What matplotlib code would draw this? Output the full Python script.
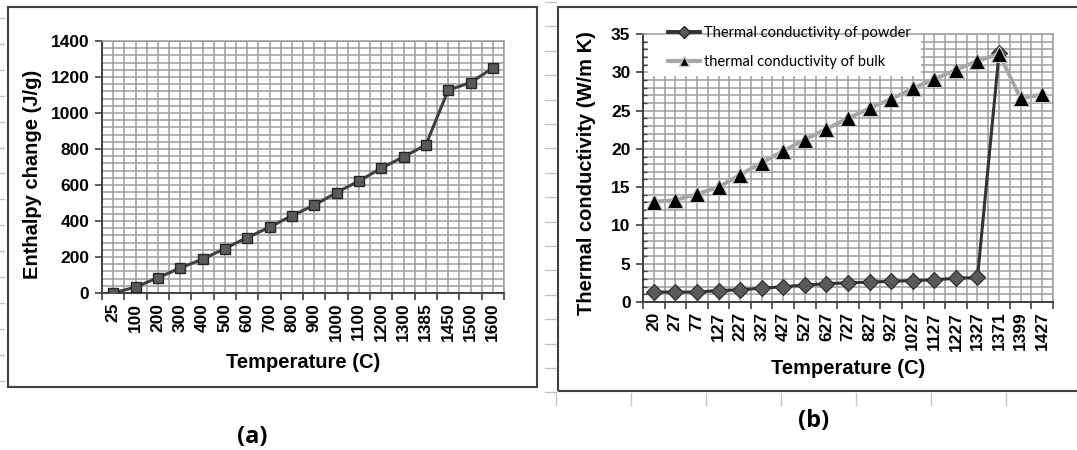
import matplotlib.pyplot as plt
import numpy as np
from matplotlib.patches import Rectangle
from matplotlib.lines import Line2D
from matplotlib.ticker import MultipleLocator

# ---- data ----
temp_a = ['25', '100', '200', '300', '400', '500', '600', '700', '800', '900',
          '1000', '1100', '1200', '1300', '1385', '1450', '1500', '1600']
enthalpy = [0, 33, 84, 139, 188, 247, 308, 365, 430, 487,
            558, 622, 693, 757, 822, 1127, 1169, 1250]

temp_b = ['20', '27', '77', '127', '227', '327', '427', '527', '627', '727',
          '827', '927', '1027', '1127', '1227', '1327', '1371', '1399', '1427']
k_powder = [1.3, 1.3, 1.3, 1.5, 1.6, 1.8, 2.0, 2.2, 2.4, 2.5,
            2.6, 2.7, 2.8, 2.9, 3.1, 3.2, 32.5, np.nan, np.nan]
k_bulk = [13.1, 13.3, 14.1, 15.0, 16.6, 18.2, 19.7, 21.2, 22.6, 24.0,
          25.3, 26.5, 27.9, 29.1, 30.3, 31.5, 32.4, 26.6, 27.1]

# ---- style ----
W, H = 1077, 450
AX_COL = '#404040'
GRID_COL = '#9c9c9c'
TICK_FS = 12.5
LABEL_FS = 14.5
plt.rcParams['font.family'] = ['Liberation Sans', 'DejaVu Sans']

fig = plt.figure(figsize=(W / 100, H / 100), dpi=100)


def px_axes(x0, y0, x1, y1):
    # pixel box (top-left origin) -> figure fraction
    return fig.add_axes([x0 / W, 1 - y1 / H, (x1 - x0) / W, (y1 - y0) / H])


def style_axes(ax, n, ymax, ymaj, ymin):
    ax.set_xlim(-0.5, n - 0.5)
    ax.set_ylim(0, ymax)
    ax.xaxis.set_major_locator(MultipleLocator(1))
    ax.xaxis.set_minor_locator(MultipleLocator(0.5))
    ax.yaxis.set_major_locator(MultipleLocator(ymaj))
    ax.yaxis.set_minor_locator(MultipleLocator(ymin))
    ax.grid(True, which='both', color=GRID_COL, lw=1.1)
    ax.set_axisbelow(True)
    for s in ['top', 'right']:
        ax.spines[s].set_color(GRID_COL)
        ax.spines[s].set_linewidth(1.1)
    for s in ['left', 'bottom']:
        ax.spines[s].set_color(AX_COL)
        ax.spines[s].set_linewidth(1.4)
    ax.tick_params(axis='x', which='major', length=0, pad=7)
    ax.tick_params(axis='x', which='minor', length=5, width=1.2, color=AX_COL, direction='out')
    ax.tick_params(axis='y', which='major', length=5, width=1.2, color=AX_COL, direction='out', pad=4)
    ax.tick_params(axis='y', which='minor', length=0)
    ax.tick_params(labelsize=TICK_FS)
    for lab in ax.get_yticklabels():
        lab.set_fontweight('bold')


# ---- (a) enthalpy ----
ax1 = px_axes(102, 41, 504, 293)
x1 = np.arange(len(temp_a))
ax1.plot(x1, enthalpy, color=AX_COL, lw=2.2, marker='s', ms=7.5,
         mfc='#5a5a5a', mec='#262626', mew=1.0, zorder=3)
style_axes(ax1, len(temp_a), 1400, 200, 40)
ax1.set_xticks(x1)
ax1.set_xticklabels(temp_a, rotation=90, fontweight='bold', fontsize=TICK_FS)
ax1.set_xlabel('Temperature (C)', fontsize=LABEL_FS, fontweight='bold', va='center')
ax1.xaxis.set_label_coords(0.5, -0.274)
ax1.set_ylabel('Enthalpy change (J/g)', fontsize=LABEL_FS, fontweight='bold', va='center')
ax1.yaxis.set_label_coords(-0.172, 0.472)

# ---- (b) thermal conductivity ----
ax2 = px_axes(643, 34, 1053, 302)
x2 = np.arange(len(temp_b))
ax2.plot(x2, k_bulk, color='#a6a6a6', lw=2.8, marker='^', ms=11,
         mfc='black', mec='#c8c8c8', mew=0.8, zorder=3,
         label='thermal conductivity of bulk')
ax2.plot(x2, k_powder, color='#333333', lw=2.2, marker='D', ms=8,
         mfc='#5a5a5a', mec='#2a2a2a', mew=0.8, zorder=2.8,
         label='Thermal conductivity of powder')
style_axes(ax2, len(temp_b), 35, 5, 1)
ax2.tick_params(axis='y', which='minor', length=3, width=1, color=AX_COL, direction='in')
ax2.set_xticks(x2)
ax2.set_xticklabels(temp_b, rotation=90, fontweight='bold', fontsize=TICK_FS)
ax2.set_xlabel('Temperature (C)', fontsize=LABEL_FS, fontweight='bold', va='center')
ax2.xaxis.set_label_coords(0.5, -0.25)
ax2.set_ylabel('Thermal conductivity (W/m K)', fontsize=LABEL_FS, fontweight='bold', va='center')
ax2.yaxis.set_label_coords(-0.139, 0.48)

# white block behind the legend, as in the original
ax2.add_patch(Rectangle((0.012, 0.843), 0.666, 0.157, transform=ax2.transAxes,
                        facecolor='white', edgecolor='none', zorder=1.5))

handles = [
    Line2D([0], [0], color='#333333', lw=2.8, marker='D', ms=6, mfc='#5a5a5a', mec='#2a2a2a'),
    Line2D([0], [0], color='#a6a6a6', lw=3.0, marker='^', ms=7, mfc='black', mec='#c8c8c8'),
]
ax2.legend(handles, ['Thermal conductivity of powder', 'thermal conductivity of bulk'],
           loc='upper left', bbox_to_anchor=(0.061, 1.03), frameon=False,
           borderpad=0, borderaxespad=0, handlelength=2.2, handletextpad=0.3,
           labelspacing=1.05, prop={'family': ['Lato', 'DejaVu Sans'], 'size': 10.5})

# ---- spreadsheet frames and ruler marks ----
frame_kw = dict(transform=None, fill=False, edgecolor=AX_COL, lw=1.5, zorder=0)
fig.patches.append(Rectangle((8, H - 387), 529, 380, **frame_kw))
fig.patches.append(Rectangle((558, H - 391), 530, 384, **frame_kw))

ruler = '#c4c4c4'
for y in np.arange(18, 395, 25.9):
    fig.add_artist(Line2D([0, 4], [H - y, H - y], transform=None, color=ruler, lw=1))
for y in np.arange(2, 400, 24.4):
    fig.add_artist(Line2D([545, 556], [H - y, H - y], transform=None, color=ruler, lw=1))
for x in np.arange(556, 1077, 75):
    fig.add_artist(Line2D([x, x], [H - 393, H - 405], transform=None, color=ruler, lw=1))

# ---- panel letters ----
fig.text(252 / W, 1 - 437 / H, '(a)', ha='center', va='center', fontsize=17,
         fontweight='bold', family=['Open Sans', 'DejaVu Sans'])
fig.text(814 / W, 1 - 421 / H, '(b)', ha='center', va='center', fontsize=17,
         fontweight='bold', family=['Open Sans', 'DejaVu Sans'])

fig.savefig('out.png', dpi=100)
